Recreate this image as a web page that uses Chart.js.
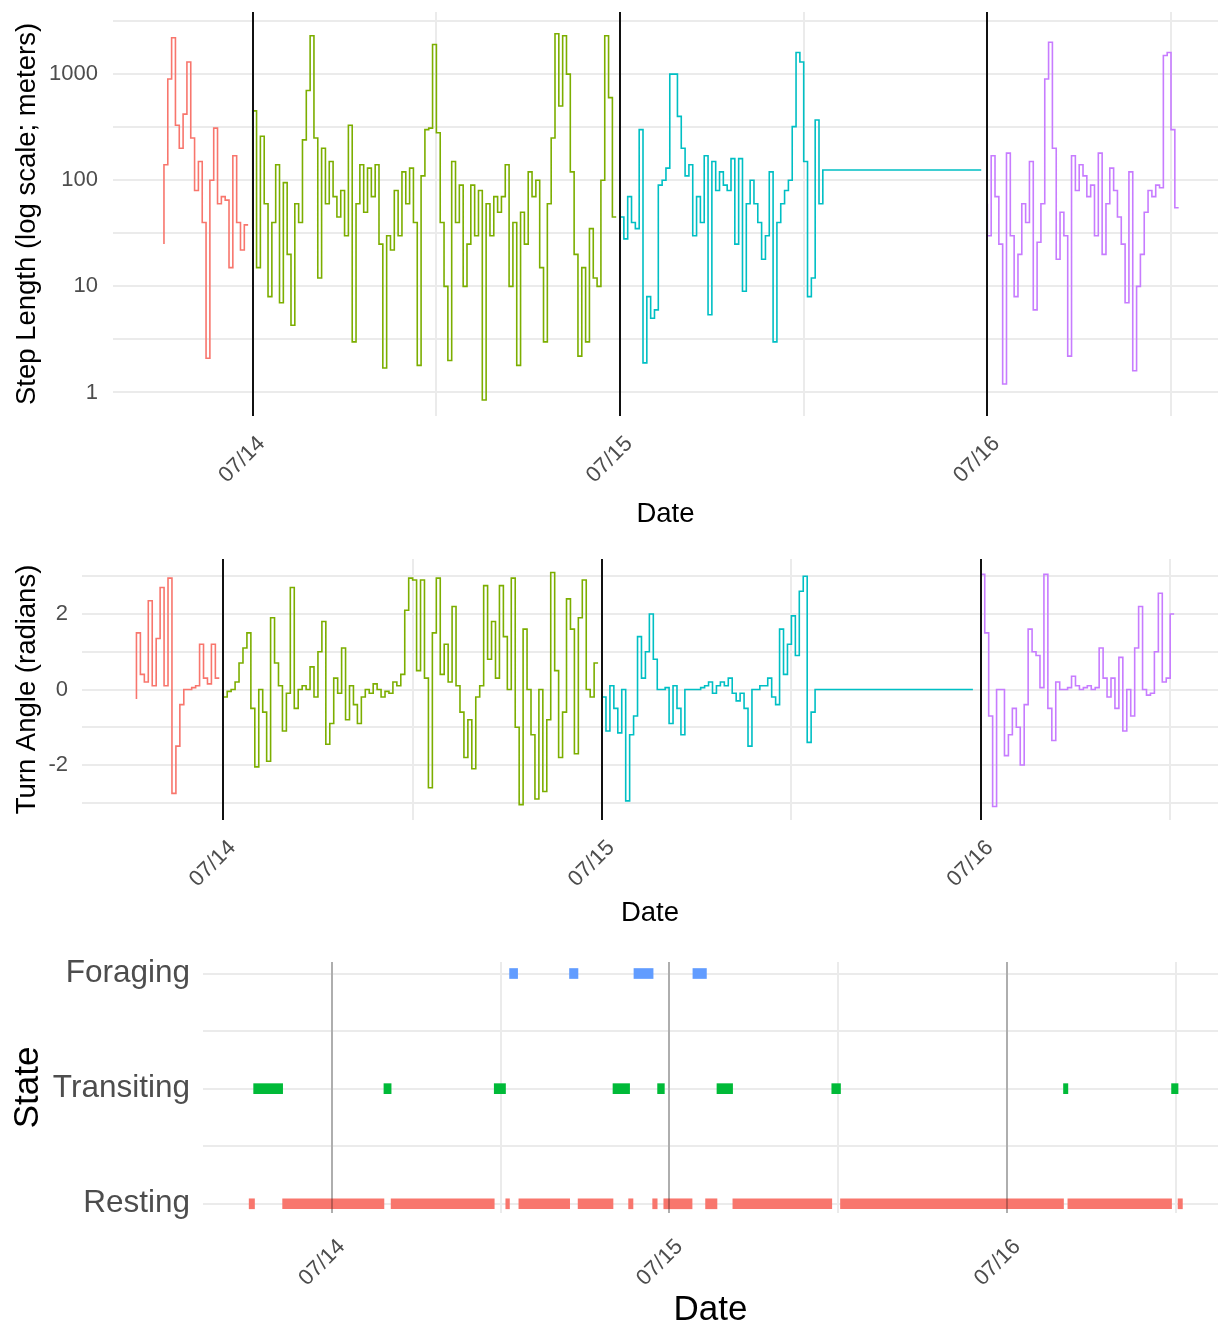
<!DOCTYPE html>
<html>
<head>
<meta charset="utf-8">
<title>Step length, turn angle and state</title>
<script src="https://cdn.jsdelivr.net/npm/chart.js@4.4.1/dist/chart.umd.min.js"></script>
<style>
  html, body { margin: 0; padding: 0; background: #fff; }
  #page { position: relative; width: 1220px; height: 1330px; }
  canvas { position: absolute; left: 0; }
</style>
</head>
<body>
<div id="page">
  <canvas id="stepChart" width="1220" height="530" style="top:0"></canvas>
  <canvas id="turnChart" width="1220" height="400" style="top:530px"></canvas>
  <canvas id="stateChart" width="1220" height="400" style="top:930px"></canvas>
</div>
<script>
// time is in hours from 07/14 00:00, fixes every 15 min
const FIX_INTERVAL = 0.25;

const dayHours = [0, 24, 48];
const dayLabels = ["07/14", "07/15", "07/16"];
const halfDayHours = [12, 36, 60];

const segColors = ["#F8766D", "#7CAE00", "#00BFC4", "#C77CFF"];

// step length (m), one array per day segment
const stepStarts = [-5.8, 0, 24, 48];
const stepRed = [25, 140, 900, 2200, 330, 200, 420, 1300, 250, 80, 150, 40, 2.1, 100, 310, 60, 70, 65, 15, 170, 40, 22, 38];
const stepGreen = [35, 450, 15, 260, 60, 8, 40, 140, 7, 95, 20, 4.3, 60, 40, 240, 700, 2300, 250, 12, 200, 60, 150, 70, 45,
  80, 30, 330, 3, 60, 140, 50, 130, 70, 140, 25, 1.7, 30, 22, 80, 30, 120, 60, 130, 40, 1.8, 110, 300,
  310, 1900, 280, 40, 10, 2.0, 150, 40, 90, 10, 25, 90, 30, 80, 0.85, 60, 30, 70, 50, 70, 140, 10, 40, 1.8,
  50, 25, 120, 70, 100, 15, 3, 60, 250, 2400, 500, 2300, 1000, 120, 20, 2.2, 15, 3, 35, 12, 10, 100, 2300, 600, 45];
const stepCyan = [170, 45, 28, 70, 40, 35, 300, 1.9, 8, 5, 6, 90, 100, 130, 1000, 1000, 400, 200, 110, 140, 30, 70, 40, 170,
  5.4, 150, 80, 120, 90, 80, 160, 25, 160, 9, 60, 100, 60, 40, 18, 30, 120, 3, 40, 60, 80, 100, 320, 1600, 1300,
  150, 8, 12, 370, 60, 125];
const stepPurple = [60, 30, 170, 70, 25, 1.2, 180, 30, 8, 20, 60, 40, 150, 6, 26, 60, 900, 2000, 200, 18, 50, 30, 2.2, 170,
  80, 140, 110, 70, 90, 30, 180, 20, 60, 130, 80, 45, 25, 7, 120, 1.6, 10, 20, 50, 80, 70, 90, 85, 1500, 1600, 300, 55];
const stepCyanFlatEnd = 47.6;
const stepTickValues = [1, 3.162, 10, 31.62, 100, 316.2, 1000, 3162];
const stepTickLabels = ["1", "", "10", "", "100", "", "1000", ""];

// turn angle (radians)
const turnStarts = [-5.5, 0, 24, 48];
const turnRed = [-0.25, 1.5, 0.4, 0.2, 2.35, 0.1, 1.35, 2.7, 0.1, 2.95, -2.75, -1.5, -0.4, 0.0, 0.0, 0.05, 0.1, 1.2, 0.3, 0.15, 1.2, 0.3];
const turnGreen = [-0.1, -0.2, -0.05, 0.0, 0.2, 0.7, 1.1, 1.5, -0.5, -2.05, 0.0, -0.6, -1.9, 1.9, 0.7, 0.1, -1.1, -0.1, 2.7, -0.5,
  0.0, 0.1, 0.0, 0.6, -0.2, 1.0, 1.8, -1.45, -0.9, 0.3, -0.1, 1.1, -0.8, 0.1, -0.4, -0.9, -0.2, 0.0, -0.1, 0.15,
  0.0, -0.2, -0.05, -0.1, 0.2, 0.1, 0.4, 2.1, 2.95,
  2.9, 0.5, 2.9, 0.3, -2.6, 1.5, 2.95, 0.4, 1.2, 0.2, 2.2, 0.1, -0.6, -1.8, -0.8, -2.1, -0.2, 0.1, 2.75, 0.8,
  1.8, 0.3, 2.75, 1.4, 0.0, 2.95, -1.0, -3.05, 1.6, 0.0, -1.2, -2.9, 0.0, -2.7, -0.8, 3.1, 0.5, -1.8, -0.6, 2.4,
  1.6, -1.7, 1.9, 2.9, 0.0, -0.2, 0.7];
const turnCyan = [0.0, -0.2, -1.1, 0.1, -0.5, -1.15, 0.0, -2.95, -1.2, -0.7, 1.4, 0.3, 1.0, 2.0, 0.8, 0.0, 0.0, 0.05, -0.9, 0.1,
  -0.5, -1.2, 0.0, 0.0, 0.0, 0.0, 0.05, 0.1, 0.2, -0.1, 0.1, 0.2, 0.1, 0.3, -0.1, -0.3, -0.1, -0.5, -1.5, 0.0,
  0.0, 0.1, 0.1, 0.3, -0.2, -0.4, 1.6, 0.4, 1.2, 1.95, 0.9, 2.6, 3.0, -1.4, -0.6, 0.0];
const turnPurple = [0.0, 3.05, 1.5, -0.7, -3.1, 0.0, 0.0, -1.75, -1.2, -0.5, -1.0, -2.0, -0.4, 1.6, 1.0, 0.9, 0.05, 3.05, -0.5, -1.35,
  0.2, 0.0, 0.0, 0.05, 0.35, 0.1, 0.0, 0.05, 0.1, 0.0, 0.05, 1.1, 0.3, -0.2, 0.3, -0.5, 0.85, -1.1, 0.0, -0.7,
  1.1, 2.2, 0.0, -0.15, -0.1, 1.0, 2.55, 0.2, 0.3, 2.0];
const turnCyanFlatEnd = 47.5;
const turnTickValues = [-3, -2, -1, 0, 1, 2, 3];
const turnTickLabels = ["", "-2", "", "0", "", "2", ""];

// behavioural state bouts [start, end] in hours
const stateNames = ["Resting", "Transiting", "Foraging"];
const stateColors = ["#F8766D", "#00BA38", "#619CFF"];
const restingBouts = [[-5.87, -5.49], [-3.49, 3.71], [4.22, 11.55], [12.37, 12.63], [13.3, 16.91], [17.51, 19.99],
  [21.1, 21.41], [22.81, 23.13], [23.6, 25.61], [26.57, 27.38], [28.51, 35.54], [36.16, 52.01], [52.32, 59.69], [60.15, 60.46]];
const transitingBouts = [[-5.55, -3.49], [3.71, 4.22], [11.55, 12.35], [19.99, 21.17], [23.16, 23.64], [27.38, 28.49],
  [35.54, 36.16], [52.01, 52.32], [59.69, 60.15]];
const foragingBouts = [[12.64, 13.21], [16.9, 17.5], [21.48, 22.84], [25.67, 26.63]];

Chart.defaults.font.family = "'Liberation Sans', Arial, sans-serif";
Chart.defaults.animation = false;
Chart.defaults.events = [];

const TICK_GREY = "#4D4D4D";
const GRID = "#EBEBEB";

function buildSeries(values, start, flatEnd) {
  const pts = values.map((v, i) => ({ x: start + i * FIX_INTERVAL, y: v }));
  if (flatEnd !== undefined) pts.push({ x: flatEnd, y: values[values.length - 1] });
  return pts;
}

const dayLines = {
  id: "dayLines",
  afterDatasetsDraw(chart, args, opts) {
    const { ctx, chartArea, scales } = chart;
    ctx.save();
    ctx.strokeStyle = opts.color;
    ctx.lineWidth = opts.width;
    dayHours.forEach(h => {
      const px = Math.round(scales.x.getPixelForValue(h));
      ctx.beginPath();
      ctx.moveTo(px, chartArea.top);
      ctx.lineTo(px, chartArea.bottom);
      ctx.stroke();
    });
    ctx.restore();
  }
};

// y axis: fixed width, and no extra room reserved for the end labels
function fixYWidth(w) {
  return s => { s.width = w; s.paddingTop = 0; s.paddingBottom = 0; };
}

function timeAxis(min, max, height, pad, offset, titleSize, titlePad) {
  return {
    type: "linear",
    min: min,
    max: max,
    afterFit: s => { s.height = height; },
    afterBuildTicks: s => {
      s.ticks = dayHours.concat(halfDayHours).sort((a, b) => a - b).map(v => ({ value: v }));
    },
    grid: { color: GRID, lineWidth: 2, drawTicks: false },
    border: { display: false },
    ticks: {
      autoSkip: false,
      minRotation: 45,
      maxRotation: 45,
      padding: pad,
      labelOffset: offset,
      color: TICK_GREY,
      font: { size: 22 },
      callback: v => {
        const i = dayHours.indexOf(v);
        return i >= 0 ? dayLabels[i] : "";
      }
    },
    title: { display: true, text: "Date", color: "#000", font: { size: titleSize, lineHeight: 1.15 }, padding: { top: 0, bottom: titlePad } }
  };
}

function segmentSets(arrays, starts, flatEnd) {
  return arrays.map((vals, i) => ({
    data: buildSeries(vals, starts[i], i === 2 ? flatEnd : undefined),
    borderColor: segColors[i],
    borderWidth: 1.6,
    pointRadius: 0,
    stepped: "after",
    fill: false
  }));
}

// top panel: step length
new Chart(document.getElementById("stepChart"), {
  type: "line",
  data: { datasets: segmentSets([stepRed, stepGreen, stepCyan, stepPurple], stepStarts, stepCyanFlatEnd) },
  options: {
    responsive: false,
    layout: { padding: { top: 12, right: 2, left: 0, bottom: 0 } },
    plugins: { legend: { display: false }, tooltip: { enabled: false }, dayLines: { color: "#111", width: 2 } },
    scales: {
      x: timeAxis(-9.13, 63.07, 114, 15, 9, 27.5, 0),
      y: {
        type: "logarithmic",
        min: 0.6,
        max: 3850,
        afterFit: fixYWidth(113),
        afterBuildTicks: s => { s.ticks = stepTickValues.map(v => ({ value: v })); },
        grid: { color: GRID, lineWidth: 2, drawTicks: false },
        border: { display: false },
        ticks: {
          padding: 15,
          color: TICK_GREY,
          font: { size: 22 },
          callback: v => stepTickLabels[stepTickValues.indexOf(v)] || ""
        },
        title: { display: true, text: "Step Length (log scale; meters)", color: "#000", font: { size: 27.5 }, padding: { top: 11, bottom: 0 } }
      }
    }
  },
  plugins: [dayLines]
});

// middle panel: turn angle
new Chart(document.getElementById("turnChart"), {
  type: "line",
  data: { datasets: segmentSets([turnRed, turnGreen, turnCyan, turnPurple], turnStarts, turnCyanFlatEnd) },
  options: {
    responsive: false,
    layout: { padding: { top: 29, right: 2, left: 0, bottom: 0 } },
    plugins: { legend: { display: false }, tooltip: { enabled: false }, dayLines: { color: "#111", width: 2 } },
    scales: {
      x: timeAxis(-8.95, 63.03, 110, 15, 9, 27.5, 1),
      y: {
        type: "linear",
        min: -3.456,
        max: 3.456,
        afterFit: fixYWidth(82),
        afterBuildTicks: s => { s.ticks = turnTickValues.map(v => ({ value: v })); },
        grid: { color: GRID, lineWidth: 2, drawTicks: false },
        border: { display: false },
        ticks: {
          padding: 14,
          color: TICK_GREY,
          font: { size: 22 },
          callback: v => turnTickLabels[turnTickValues.indexOf(v)] || ""
        },
        title: { display: true, text: "Turn Angle (radians)", color: "#000", font: { size: 27.5 }, padding: { top: 11, bottom: 0 } }
      }
    }
  },
  plugins: [dayLines]
});

// bottom panel: state bouts as floating bars
const bouts = [restingBouts, transitingBouts, foragingBouts];
new Chart(document.getElementById("stateChart"), {
  type: "bar",
  data: {
    datasets: bouts.map((list, i) => ({
      data: list.map(b => ({ x: b, y: i + 1 })),
      backgroundColor: stateColors[i],
      borderWidth: 0,
      barThickness: 10,
      grouped: false
    }))
  },
  options: {
    responsive: false,
    indexAxis: "y",
    layout: { padding: { top: 32, right: 2, left: 0, bottom: 0 } },
    plugins: { legend: { display: false }, tooltip: { enabled: false }, dayLines: { color: "rgba(0,0,0,0.35)", width: 1.5 } },
    scales: {
      x: timeAxis(-9.15, 62.99, 117, 21, 10, 35, 0),
      y: {
        type: "linear",
        min: 0.92,
        max: 3.1,
        offset: false,
        afterFit: fixYWidth(203),
        afterBuildTicks: s => { s.ticks = [1, 1.5, 2, 2.5, 3].map(v => ({ value: v })); },
        grid: { color: GRID, lineWidth: 2, drawTicks: false, offset: false },
        border: { display: false },
        ticks: {
          padding: 13,
          color: TICK_GREY,
          font: { size: 31.5 },
          callback: v => Number.isInteger(v) ? stateNames[v - 1] : ""
        },
        title: { display: true, text: "State", color: "#000", font: { size: 35 }, padding: { top: 7, bottom: 0 } }
      }
    }
  },
  plugins: [dayLines]
});
</script>
</body>
</html>
